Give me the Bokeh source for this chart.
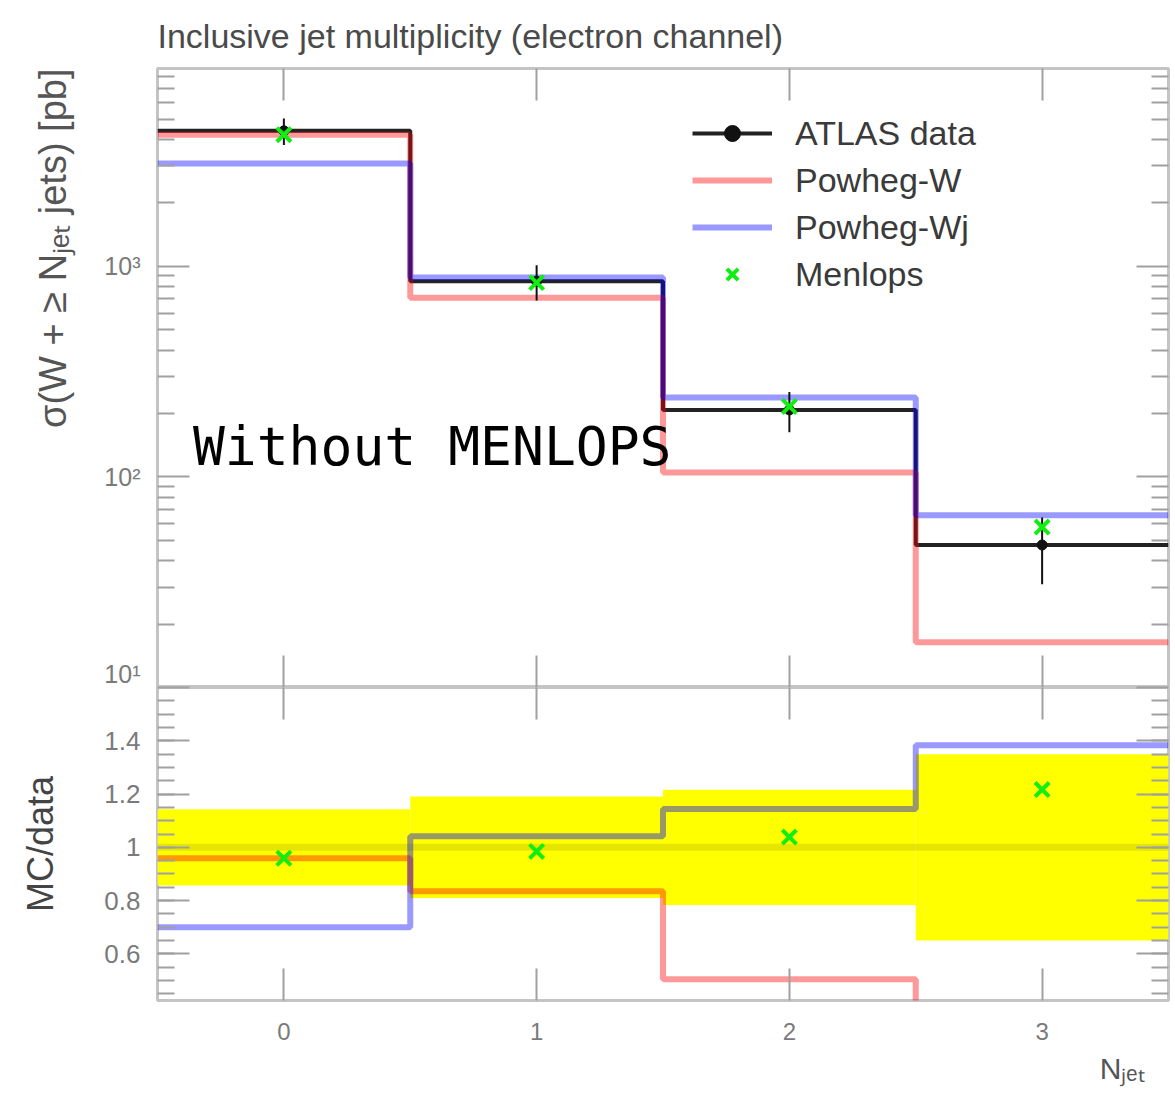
import numpy as np
from bokeh.plotting import figure
from bokeh.layouts import column
from bokeh.models import (FixedTicker, LinearAxis, LogAxis, Legend, LegendItem,
                          Title, Label, Range1d)
from bokeh.embed import file_html
from bokeh.resources import INLINE

# Inclusive jet multiplicity, electron channel: sigma(W + >= N_jet jets) in pb
n_jet = [0, 1, 2, 3]
bin_edges = [-0.5, 0.5, 1.5, 2.5, 3.5]
atlas_data = [4400.0, 850.0, 208.0, 47.5]
atlas_err = [630.0, 162.0, 45.0, 16.6]
powheg_w = [4220.0, 710.0, 105.0, 16.4]
powheg_wj = [3080.0, 885.0, 238.0, 65.7]
menlops = [4220.0, 837.0, 216.0, 57.8]

x_tick_labels = ["0", "1", "2", "3"]
log_ticks = [10, 100, 1000]
log_tick_labels = ["10¹", "10²", "10³"]
ratio_ticks = [0.6, 0.8, 1.0, 1.2, 1.4, 1.6]
ratio_tick_labels = ["0.6", "0.8", "1", "1.2", "1.4", ""]

data = np.array(atlas_data)
err = np.array(atlas_err)


def steps(vals):
    vals = list(vals)
    return vals + [vals[-1]]


FONT = "Liberation Sans"
TICK = "#a0a0a0"
LABEL = "#7a7a7a"
FRAME = "#c4c4c4"
RED = "#ff0000"
BLUE = "#0000ff"
GREEN = "#11ee11"


def style_axis(ax, labels=True, size="22px", standoff=17):
    ax.axis_line_color = None
    ax.major_tick_in = 32
    ax.major_tick_out = 0
    ax.minor_tick_in = 17
    ax.minor_tick_out = 0
    ax.major_tick_line_color = TICK
    ax.major_tick_line_width = 2
    ax.minor_tick_line_color = TICK
    ax.minor_tick_line_width = 2
    if labels:
        ax.major_label_text_font = FONT
        ax.major_label_text_font_size = size
        ax.major_label_text_color = LABEL
        ax.major_label_standoff = standoff
    else:
        # tick-only frame edge: labels are not painted and take ~no room
        ax.major_label_text_font_size = "1px"
        ax.major_label_text_color = None
        ax.major_label_standoff = 0


def base_figure(height, y_range, log=False, top=0, bottom=0):
    f = figure(width=1175, height=height,
               x_range=Range1d(bin_edges[0], bin_edges[-1]), y_range=y_range,
               y_axis_type="log" if log else "linear",
               x_axis_location=None, y_axis_location=None,
               output_backend="svg", toolbar_location=None,
               min_border_left=157, min_border_right=7,
               min_border_top=top, min_border_bottom=bottom)
    f.grid.grid_line_color = None
    f.outline_line_color = FRAME
    f.outline_line_width = 3
    f.background_fill_color = "white"
    f.border_fill_color = "white"
    return f


# ---------------- main panel: cross sections ----------------
log_minor = [m * 10 ** e for e in (1, 2, 3) for m in range(2, 10)]
p = base_figure(687, Range1d(10, 8700), log=True, top=68)

p.title.text = "Inclusive jet multiplicity (electron channel)"
p.title.text_font = FONT
p.title.text_font_size = "34px"
p.title.text_font_style = "normal"
p.title.text_color = "#4a4a4a"
p.title.standoff = 27

yl = LogAxis(ticker=FixedTicker(ticks=log_ticks, minor_ticks=log_minor),
             major_label_overrides=dict(zip(log_ticks, log_tick_labels)))
style_axis(yl, size="25px")
p.add_layout(yl, "left")
p.add_layout(Title(text="σ(W + ≥ Nⱼₑₜ jets) [pb]", align="right",
                   text_font=FONT, text_font_size="38px",
                   text_font_style="normal", text_color="#555555",
                   standoff=56), "left")

yr = LogAxis(ticker=FixedTicker(ticks=log_ticks, minor_ticks=log_minor))
style_axis(yr, labels=False)
p.add_layout(yr, "right")
for loc in ("above", "below"):
    xa = LinearAxis(ticker=FixedTicker(ticks=n_jet, minor_ticks=[]))
    style_axis(xa, labels=False)
    p.add_layout(xa, loc)

r_data_line = p.step(bin_edges, steps(atlas_data), mode="after",
                     line_color="#222222", line_width=4)
r_red = p.step(bin_edges, steps(powheg_w), mode="after",
               line_color=RED, line_alpha=0.4, line_width=6)
r_blue = p.step(bin_edges, steps(powheg_wj), mode="after",
                line_color=BLUE, line_alpha=0.4, line_width=6)
p.segment(x0=n_jet, x1=n_jet, y0=list(data - err), y1=list(data + err),
          line_color="#111111", line_width=2)
r_data_pts = p.scatter(n_jet, atlas_data, marker="circle", size=10,
                       fill_color="#111111", line_color="#111111")
r_menlops = p.scatter(n_jet, menlops, marker="x", size=20,
                      line_color=GREEN, line_width=4)

legend = Legend(items=[
    LegendItem(label="ATLAS data", renderers=[r_data_line, r_data_pts]),
    LegendItem(label="Powheg-W", renderers=[r_red]),
    LegendItem(label="Powheg-Wj", renderers=[r_blue]),
    LegendItem(label="Menlops", renderers=[r_menlops]),
], location=(535, 393), orientation="vertical",
    glyph_width=80, glyph_height=40, label_height=40, spacing=7,
    label_standoff=23, padding=0, margin=0,
    label_text_font=FONT, label_text_font_size="34px",
    label_text_color="#3a3a3a",
    border_line_color=None, background_fill_alpha=0)
p.add_layout(legend)

p.add_layout(Label(x=-0.36, y=139, text="Without MENLOPS",
                   text_font="DejaVu Sans Mono", text_font_size="53px",
                   text_color="black", text_baseline="alphabetic"))

# ---------------- ratio panel: MC / data ----------------
rel_err = err / data
ratio_minor = [round(0.45 + 0.05 * i, 2) for i in range(23)]
r = base_figure(410, Range1d(0.425, 1.6), bottom=97)

ry = LinearAxis(ticker=FixedTicker(ticks=ratio_ticks, minor_ticks=ratio_minor),
                major_label_overrides=dict(zip(ratio_ticks, ratio_tick_labels)),
                axis_label="MC/data")
style_axis(ry, size="26px")
ry.axis_label_text_font = FONT
ry.axis_label_text_font_size = "36px"
ry.axis_label_text_font_style = "normal"
ry.axis_label_text_color = "#444444"
ry.axis_label_standoff = 40
r.add_layout(ry, "left")

rr = LinearAxis(ticker=FixedTicker(ticks=ratio_ticks, minor_ticks=ratio_minor))
style_axis(rr, labels=False)
r.add_layout(rr, "right")

xt = LinearAxis(ticker=FixedTicker(ticks=n_jet, minor_ticks=[]))
style_axis(xt, labels=False)
r.add_layout(xt, "above")
xb = LinearAxis(ticker=FixedTicker(ticks=n_jet, minor_ticks=[]),
                major_label_overrides=dict(zip(n_jet, x_tick_labels)))
style_axis(xb, size="24px", standoff=22)
r.add_layout(xb, "below")
r.add_layout(Title(text="Nⱼₑₜ", align="right", offset=24,
                   text_font=FONT, text_font_size="30px",
                   text_font_style="normal", text_color="#555555",
                   standoff=14), "below")

r.quad(left=bin_edges[:-1], right=bin_edges[1:],
       bottom=list(1 - rel_err), top=list(1 + rel_err),
       fill_color="#ffff00", line_color=None)
r.step(bin_edges, steps(data / data), mode="after",
       line_color="black", line_alpha=0.1, line_width=7)
r.step(bin_edges, steps(np.array(powheg_w) / data), mode="after",
       line_color=RED, line_alpha=0.4, line_width=6)
r.step(bin_edges, steps(np.array(powheg_wj) / data), mode="after",
       line_color=BLUE, line_alpha=0.4, line_width=6)
r.scatter(n_jet, list(np.array(menlops) / data), marker="x", size=20,
          line_color=GREEN, line_width=4)

layout = column(p, r, spacing=0)
open("out.html", "w").write(file_html(layout, INLINE))
